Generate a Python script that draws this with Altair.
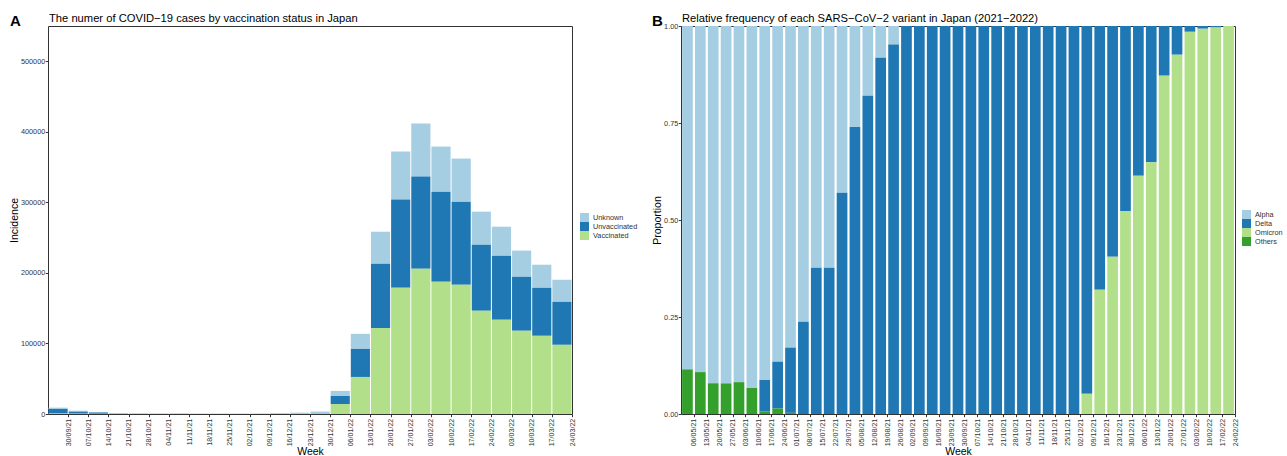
import altair as alt
import pandas as pd

FONT = "Liberation Sans"

# ---- Panel A: weekly COVID-19 cases by vaccination status ----
weeks_a = ["30/09/21", "07/10/21", "14/10/21", "21/10/21", "28/10/21", "04/11/21",
           "11/11/21", "18/11/21", "25/11/21", "02/12/21", "09/12/21", "16/12/21",
           "23/12/21", "30/12/21", "06/01/22", "13/01/22", "20/01/22", "27/01/22",
           "03/02/22", "10/02/22", "17/02/22", "24/02/22", "03/03/22", "10/03/22",
           "17/03/22", "24/03/22"]
vaccinated = [600, 400, 300, 200, 150, 120, 100, 100, 100, 100, 120, 200, 300, 500,
              14200, 52500, 122000, 179000, 206000, 187400, 183200, 146300, 133500,
              118000, 110800, 98000]
unvaccinated = [6500, 2900, 1800, 300, 250, 200, 150, 150, 150, 150, 150, 150, 200, 500,
                11300, 39800, 91000, 125000, 130500, 127800, 117800, 93600, 90900,
                76600, 68100, 61000]
unknown = [1900, 1400, 700, 700, 400, 300, 250, 250, 250, 250, 300, 900, 1400, 2500,
           7200, 21300, 45400, 68100, 75300, 63900, 61100, 46900, 41100, 37000,
           32700, 31300]
status_order = ["Unknown", "Unvaccinated", "Vaccinated"]
status_colors = ["#a6cee3", "#1f78b4", "#b2df8a"]
incidence_ticks = [0, 100000, 200000, 300000, 400000, 500000]
title_a = "The numer of COVID\u221219 cases by vaccination status in Japan"

# ---- Panel B: weekly share of each SARS-CoV-2 variant ----
weeks_b = ["06/05/21", "13/05/21", "20/05/21", "27/05/21", "03/06/21", "10/06/21",
           "17/06/21", "24/06/21", "01/07/21", "08/07/21", "15/07/21", "22/07/21",
           "29/07/21", "05/08/21", "12/08/21", "19/08/21", "26/08/21", "02/09/21",
           "09/09/21", "16/09/21", "23/09/21", "30/09/21", "07/10/21", "14/10/21",
           "21/10/21", "28/10/21", "04/11/21", "11/11/21", "18/11/21", "25/11/21",
           "02/12/21", "09/12/21", "16/12/21", "23/12/21", "30/12/21", "06/01/22",
           "13/01/22", "20/01/22", "27/01/22", "03/02/22", "10/02/22", "17/02/22",
           "24/02/22"]
alpha = [0.885, 0.892, 0.921, 0.921, 0.918, 0.933, 0.912, 0.865, 0.829, 0.762, 0.623,
         0.623, 0.430, 0.260, 0.180, 0.082, 0.048, 0, 0, 0, 0, 0, 0, 0, 0, 0, 0, 0, 0,
         0, 0, 0, 0, 0, 0, 0, 0, 0, 0, 0, 0, 0, 0]
delta = [0, 0, 0, 0, 0, 0, 0.081, 0.121, 0.168, 0.238, 0.377, 0.377, 0.570, 0.740,
         0.820, 0.918, 0.952, 1, 1, 1, 1, 1, 1, 1, 1, 1, 1, 1, 1, 1, 1, 0.948, 0.680,
         0.595, 0.477, 0.386, 0.351, 0.128, 0.074, 0.015, 0.007, 0.004, 0]
omicron = [0, 0, 0, 0, 0, 0, 0, 0, 0, 0, 0, 0, 0, 0, 0, 0, 0, 0, 0, 0, 0, 0, 0, 0, 0,
           0, 0, 0, 0, 0, 0, 0.052, 0.320, 0.405, 0.523, 0.614, 0.649, 0.872, 0.926,
           0.985, 0.993, 0.996, 1]
others = [0.115, 0.108, 0.079, 0.079, 0.082, 0.067, 0.007, 0.014, 0.003, 0, 0, 0, 0, 0,
          0, 0, 0, 0, 0, 0, 0, 0, 0, 0, 0, 0, 0, 0, 0, 0, 0, 0, 0, 0, 0, 0, 0, 0, 0,
          0, 0, 0, 0]
variant_order = ["Alpha", "Delta", "Omicron", "Others"]
variant_colors = ["#a6cee3", "#1f78b4", "#b2df8a", "#33a02c"]
proportion_ticks = [0, 0.25, 0.5, 0.75, 1]
title_b = "Relative frequency of each SARS\u2212CoV\u22122 variant in Japan (2021\u22122022)"

# long tables; the stacking rank puts the last legend entry at the bottom
cases = pd.DataFrame({"week": weeks_a, "Unknown": unknown,
                      "Unvaccinated": unvaccinated, "Vaccinated": vaccinated})
cases = cases.melt(id_vars="week", var_name="status", value_name="cases")
cases["rank"] = cases["status"].map({s: i for i, s in enumerate(reversed(status_order))})

variants = pd.DataFrame({"week": weeks_b, "Alpha": alpha, "Delta": delta,
                         "Omicron": omicron, "Others": others})
variants = variants.melt(id_vars="week", var_name="variant", value_name="share")
variants["rank"] = variants["variant"].map({s: i for i, s in enumerate(reversed(variant_order))})

PLOT_H = 388
TEXT = "#333333"


def week_scale_and_axis(width, n, pad_inner, pad_outer):
    """Band scale whose ticks and labels sit in the gap closing each weekly bar."""
    step = width / (n - pad_inner + 2 * pad_outer)
    gap = step * pad_inner
    scale = alt.Scale(paddingInner=pad_inner, paddingOuter=pad_outer)
    axis = alt.Axis(title="Week", labelAngle=-90, bandPosition=1, tickOffset=gap / 2,
                    labelOffset=step / 2 - gap / 2, tickSize=2.7, labelPadding=1.5,
                    titlePadding=1, labelFontSize=7.1)
    return scale, axis


def legend(x, y):
    return alt.Legend(title=None, orient="none", legendX=x, legendY=y,
                      symbolType="square", symbolSize=81, symbolStrokeWidth=0,
                      labelFontSize=7.3, labelOffset=4, rowPadding=0,
                      labelColor=TEXT)


def headings(letter, letter_dx, title):
    """Bold panel letter plus the panel heading, both drawn above the plot frame."""
    letter_mark = alt.Chart(pd.DataFrame({"t": [letter]})).mark_text(
        font=FONT, fontSize=15, fontWeight="bold", align="left", baseline="alphabetic",
        color="black"
    ).encode(x=alt.value(letter_dx), y=alt.value(0), text="t:N")
    title_mark = alt.Chart(pd.DataFrame({"t": [title]})).mark_text(
        font=FONT, fontSize=11.2, align="left", baseline="alphabetic", color="black"
    ).encode(x=alt.value(1), y=alt.value(-4.5), text="t:N")
    return [letter_mark, title_mark]


W_A, W_B = 524, 554
xs_a, xa_a = week_scale_and_axis(W_A, len(weeks_a), 0.05, 0.025)
xs_b, xa_b = week_scale_and_axis(W_B, len(weeks_b), 0.17, 0.085)

bars_a = alt.Chart(cases).mark_bar().encode(
    x=alt.X("week:N", sort=weeks_a, scale=xs_a, axis=xa_a),
    y=alt.Y("cases:Q", stack="zero",
            scale=alt.Scale(domain=[0, 550000], nice=False),
            axis=alt.Axis(title="Incidence", values=incidence_ticks, format="d",
                          tickSize=2.7, labelPadding=0.5, titlePadding=0.5)),
    color=alt.Color("status:N", sort=status_order,
                    scale=alt.Scale(domain=status_order, range=status_colors),
                    legend=legend(532, 187)),
    order=alt.Order("rank:Q", sort="ascending"),
)

panel_a = alt.layer(bars_a, *headings("A", -38, title_a)).properties(
    width=W_A, height=PLOT_H
)

bars_b = alt.Chart(variants).mark_bar().encode(
    x=alt.X("week:N", sort=weeks_b, scale=xs_b, axis=xa_b),
    y=alt.Y("share:Q", stack="zero",
            scale=alt.Scale(domain=[0, 1], nice=False),
            axis=alt.Axis(title="Proportion", values=proportion_ticks, format=".2f",
                          tickSize=2.7, labelPadding=0.5, titlePadding=1)),
    color=alt.Color("variant:N", sort=variant_order,
                    scale=alt.Scale(domain=variant_order, range=variant_colors),
                    legend=legend(561, 184)),
    order=alt.Order("rank:Q", sort="ascending"),
)

panel_b = alt.layer(bars_b, *headings("B", -29, title_b)).properties(
    width=W_B, height=PLOT_H
)

chart = alt.hconcat(panel_a, panel_b, spacing=12).resolve_scale(
    x="independent", y="independent", color="independent"
).properties(
    padding={"left": 9, "top": 12, "right": 0, "bottom": 0},
    background="white",
).configure_view(
    stroke="#333333", strokeWidth=1
).configure_axis(
    labelFont=FONT, titleFont=FONT, labelColor=TEXT, labelFontSize=7.3,
    titleFontSize=10.5, titleFontWeight="normal", titleColor="black",
    tickColor="#333333", domain=False, grid=False,
).configure_legend(
    labelFont=FONT
)

chart.save("out.html", embed_options={"renderer": "svg", "actions": False})
